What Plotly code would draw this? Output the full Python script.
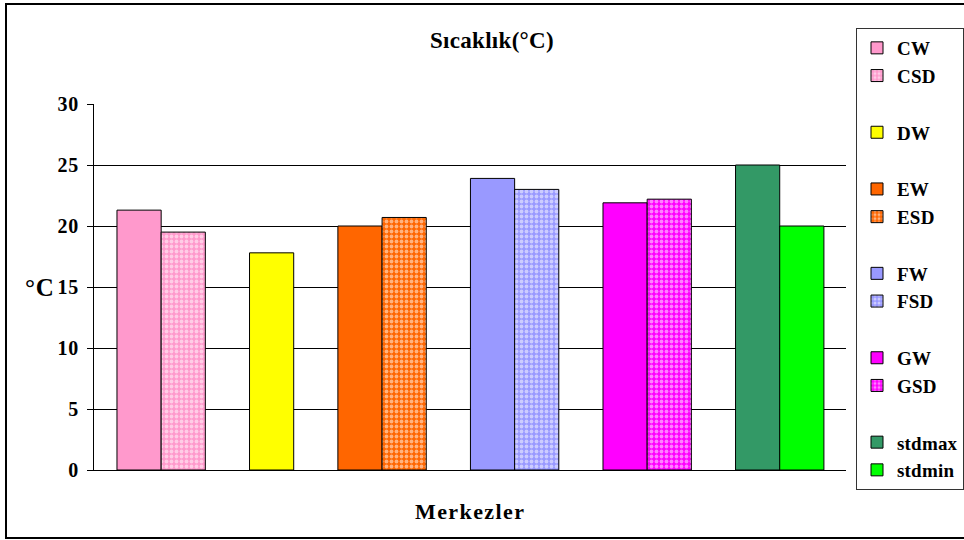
import plotly.graph_objects as go

# Series shown in the chart (one bar each), in drawing order
series_names = ["CW", "CSD", "DW", "EW", "ESD", "FW", "FSD", "GW", "GSD", "stdmax", "stdmin"]
series_values = [21.3, 19.5, 17.8, 20.0, 20.7, 23.9, 23.0, 21.9, 22.2, 25.0, 20.0]
series_groups = ["C", "C", "D", "E", "E", "F", "F", "G", "G", "std", "std"]
series_colors = ["#FF99CC", "#FF99CC", "#FFFF00", "#FF6600", "#FF6600",
                 "#9999FF", "#9999FF", "#FF00FF", "#FF00FF", "#339966", "#00FF00"]
series_patterned = [False, True, False, False, True, False, True, False, True, False, False]

# Slot layout along the x axis; None marks an empty slot between groups
slots = ["CW", "CSD", None, "DW", None, "EW", "ESD", None,
         "FW", "FSD", None, "GW", "GSD", None, "stdmax", "stdmin"]

y_ticks = [0, 5, 10, 15, 20, 25, 30]

FONT = "Liberation Serif"


def bold(text, size, spacing=0.6):
    return (f"<span style='font-size:{size}px;letter-spacing:{spacing}px'>"
            f"<b>{text}</b></span>")


fig = go.Figure()
for name, val, grp, col, pat in zip(series_names, series_values, series_groups,
                                    series_colors, series_patterned):
    marker = dict(color=col, line=dict(color="#000000", width=1))
    if pat:
        marker["pattern"] = dict(shape=".", fgcolor="#FFFFFF", bgcolor=col,
                                 size=5, solidity=0.45, fillmode="overlay")
    fig.add_trace(go.Bar(
        x=[slots.index(name)], y=[val], name=bold(name, 19, 0.2), width=1,
        legendgroup=grp, marker=marker,
        hovertemplate=f"{name}: %{{y}}<extra></extra>",
    ))

fig.update_layout(
    width=964, height=540,
    margin=dict(l=94, r=118, t=104, b=70, autoexpand=False),
    paper_bgcolor="#FFFFFF", plot_bgcolor="#FFFFFF",
    barmode="overlay",
    font=dict(family=FONT, color="#000000"),
    title=dict(text=bold("Sıcaklık(°C)", 23, 0.3), x=492 / 964, xref="container",
               y=1 - 40 / 540, yref="container", yanchor="middle",
               xanchor="center", font=dict(family=FONT, size=23, color="#000000")),
    showlegend=True,
    legend=dict(
        xref="container", yref="container",
        x=856 / 964, xanchor="left", y=1 - 28 / 540, yanchor="top",
        traceorder="grouped", tracegroupgap=29, maxheight=520,
        bgcolor="#FFFFFF", bordercolor="#333333", borderwidth=1,
        font=dict(family=FONT, size=19, color="#000000"),
    ),
    xaxis=dict(
        range=[-1.02, 16.0], showticklabels=False, ticks="",
        showgrid=False, zeroline=False,
        showline=True, linecolor="#000000", linewidth=1,
    ),
    yaxis=dict(
        range=[0, 30], tickvals=y_ticks, ticktext=[bold(t, 20, 0.8) for t in y_ticks],
        ticks="outside", ticklen=6, tickcolor="#000000", ticklabelstandoff=4,
        tickfont=dict(family=FONT, size=20, color="#000000"),
        showgrid=True, gridcolor="#000000", gridwidth=1,
        zeroline=False, showline=True, linecolor="#000000", linewidth=1,
    ),
)

fig.add_annotation(text=bold("°C", 25, 0.8), x=-0.072, y=15, xref="paper", yref="y",
                   showarrow=False, xanchor="center", yanchor="middle",
                   font=dict(family=FONT, size=25, color="#000000"))
fig.add_annotation(text=bold("Merkezler", 22, 1.4), x=0.5, y=(470 - 511) / 366,
                   xref="paper", yref="paper", showarrow=False,
                   xanchor="center", yanchor="middle",
                   font=dict(family=FONT, size=22, color="#000000"))

# Outer frame of the chart
fig.add_shape(type="rect", xref="paper", yref="paper",
              x0=(6 - 94) / 752, x1=(975 - 94) / 752,
              y0=(470 - 538) / 366, y1=(470 - 4) / 366,
              line=dict(color="#000000", width=2), fillcolor="rgba(0,0,0,0)",
              layer="below")

fig.write_html("out.html")
